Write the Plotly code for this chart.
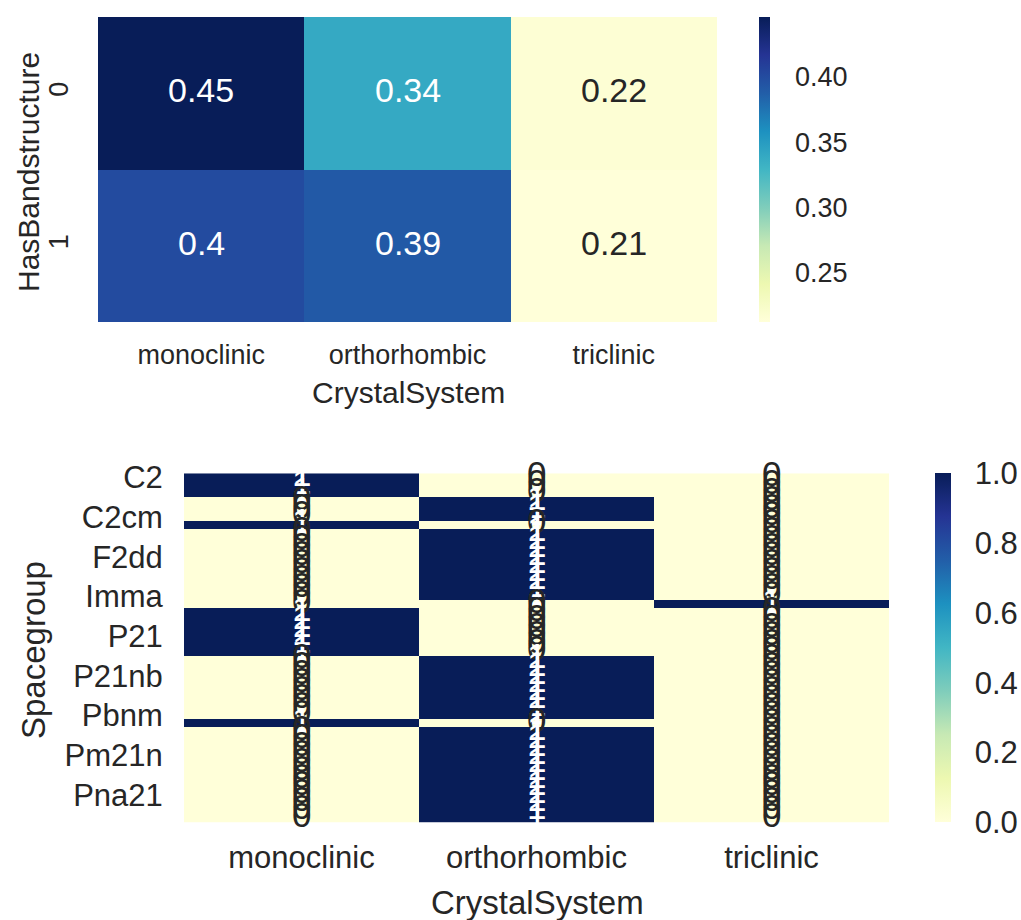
import plotly.graph_objects as go

# ---- data -------------------------------------------------------------
crystal_systems = ["monoclinic", "orthorhombic", "triclinic"]

# share of materials per crystal system, split by HasBandstructure (0 / 1)
band_labels = ["0", "1"]
share_band_0 = [0.446, 0.339, 0.216]
share_band_1 = [0.401, 0.391, 0.212]

# spacegroup -> crystal system (row-normalised crosstab)
spacegroups = [
    "C2", "C2/c", "C2/m", "C222", "C2221", "C2cm", "Cc", "Ccc2", "Cmc21", "Cmcm",
    "F2dd", "Fdd2", "Fddd", "Ima2", "Imm2", "Imma", "P1", "P2", "P2/c", "P2/m",
    "P21", "P21/c", "P21/m", "P21212", "P212121", "P21nb", "Pba2", "Pbca", "Pbcm", "Pbcn",
    "Pbnm", "Pc", "Pca21", "Pcab", "Pccn", "Pm21n", "Pmc21", "Pmcn", "Pmmn", "Pmn21",
    "Pna21", "Pnma", "Pnn2", "Pnnm",
]
monoclinic_share = [1, 1, 1, 0, 0, 0, 1, 0, 0, 0,
                    0, 0, 0, 0, 0, 0, 0, 1, 1, 1,
                    1, 1, 1, 0, 0, 0, 0, 0, 0, 0,
                    0, 1, 0, 0, 0, 0, 0, 0, 0, 0,
                    0, 0, 0, 0]
orthorhombic_share = [0, 0, 0, 1, 1, 1, 0, 1, 1, 1,
                      1, 1, 1, 1, 1, 1, 0, 0, 0, 0,
                      0, 0, 0, 1, 1, 1, 1, 1, 1, 1,
                      1, 0, 1, 1, 1, 1, 1, 1, 1, 1,
                      1, 1, 1, 1]
triclinic_share = [0, 0, 0, 0, 0, 0, 0, 0, 0, 0,
                   0, 0, 0, 0, 0, 0, 1, 0, 0, 0,
                   0, 0, 0, 0, 0, 0, 0, 0, 0, 0,
                   0, 0, 0, 0, 0, 0, 0, 0, 0, 0,
                   0, 0, 0, 0]
spacegroup_ticks = spacegroups[::5]

# ---- styling -------------------------------------------------------------
FONT = "Liberation Sans"
TEXT_DARK = "#262626"
YLGNBU = ["#ffffd9", "#edf8b1", "#c7e9b4", "#7fcdbb", "#41b6c4",
          "#1d91c0", "#225ea8", "#253494", "#081d58"]
colorscale = [[i / (len(YLGNBU) - 1), c] for i, c in enumerate(YLGNBU)]


def lum(hexcol):
    r, g, b = (int(hexcol[i:i + 2], 16) / 255 for i in (1, 3, 5))
    f = lambda c: c / 12.92 if c <= 0.03928 else ((c + 0.055) / 1.055) ** 2.4
    return 0.2126 * f(r) + 0.7152 * f(g) + 0.0722 * f(b)


def cell_color(v, vmin, vmax):
    t = 0 if vmax == vmin else (v - vmin) / (vmax - vmin)
    pos = t * (len(YLGNBU) - 1)
    i = min(int(pos), len(YLGNBU) - 2)
    fr = pos - i
    a, b = YLGNBU[i], YLGNBU[i + 1]
    rgb = [int(a[k:k + 2], 16) * (1 - fr) + int(b[k:k + 2], 16) * fr for k in (1, 3, 5)]
    return "#%02x%02x%02x" % tuple(int(round(c)) for c in rgb)


def text_color(v, vmin, vmax):
    return TEXT_DARK if lum(cell_color(v, vmin, vmax)) > 0.408 else "white"


W, H = 1021, 920
px = lambda x: x / W
py = lambda y: 1 - y / H

top_z = [share_band_0, share_band_1]
bot_z = [[m, o, t] for m, o, t in zip(monoclinic_share, orthorhombic_share, triclinic_share)]

fig = go.Figure()

fig.add_trace(go.Heatmap(
    z=top_z, x=crystal_systems, y=band_labels, xaxis="x", yaxis="y",
    colorscale=colorscale, hoverinfo="skip",
    colorbar=dict(
        x=px(759), xanchor="left", xpad=0, y=py(17), yanchor="top", ypad=0,
        len=305 / H, lenmode="fraction", thickness=11, outlinewidth=0,
        tickvals=[0.25, 0.30, 0.35, 0.40], ticktext=["0.25", "0.30", "0.35", "0.40"],
        ticks="outside", ticklen=20, tickcolor="rgba(0,0,0,0)",
        tickfont=dict(family=FONT, size=27, color=TEXT_DARK),
    ),
))

fig.add_trace(go.Heatmap(
    z=bot_z, x=crystal_systems, y=spacegroups, xaxis="x2", yaxis="y2",
    colorscale=colorscale, zmin=0, zmax=1, hoverinfo="skip",
    colorbar=dict(
        x=px(935), xanchor="left", xpad=0, y=py(473.3), yanchor="top", ypad=0,
        len=349.4 / H, lenmode="fraction", thickness=16, outlinewidth=0,
        tickvals=[0.0, 0.2, 0.4, 0.6, 0.8, 1.0],
        ticktext=["0.0", "0.2", "0.4", "0.6", "0.8", "1.0"],
        ticks="outside", ticklen=18, tickcolor="rgba(0,0,0,0)",
        tickfont=dict(family=FONT, size=31, color=TEXT_DARK),
    ),
))

annotations = []
# cell annotations, top heatmap
tmin, tmax = min(min(r) for r in top_z), max(max(r) for r in top_z)
for lab, row in zip(band_labels, top_z):
    for cs, v in zip(crystal_systems, row):
        annotations.append(dict(
            x=cs, y=lab, xref="x", yref="y", text=f"{v:.2g}", showarrow=False,
            xanchor="center", yanchor="middle",
            font=dict(family=FONT, size=34, color=text_color(v, tmin, tmax)),
            yshift=3,
        ))
# cell annotations, bottom heatmap (drawn row by row)
for sg, row in zip(spacegroups, bot_z):
    for cs, v in zip(crystal_systems, row):
        annotations.append(dict(
            x=cs, y=sg, xref="x2", yref="y2", text=f"{v:.2g}", showarrow=False,
            xanchor="center", yanchor="middle",
            font=dict(family=FONT, size=35, color=text_color(v, 0, 1)),
            yshift=4,
        ))

# axis titles
title_font = dict(family=FONT, size=30, color=TEXT_DARK)
big_title_font = dict(family=FONT, size=33, color=TEXT_DARK)
centered = dict(xref="paper", yref="paper", showarrow=False,
                xanchor="center", yanchor="middle")
annotations += [
    dict(x=px(408), y=py(393), text="CrystalSystem", font=title_font, **centered),
    dict(x=px(28), y=py(172), text="HasBandstructure", textangle=-90,
         font=title_font, **centered),
    dict(x=px(537), y=py(902), text="CrystalSystem", font=big_title_font, **centered),
    dict(x=px(33), y=py(650), text="Spacegroup", textangle=-90,
         font=big_title_font, **centered),
]

axis_common = dict(showgrid=False, zeroline=False, showline=False, automargin=False,
                   ticks="outside", tickcolor="rgba(0,0,0,0)")

fig.update_layout(
    width=W, height=H,
    margin=dict(l=0, r=0, t=0, b=0, autoexpand=False),
    paper_bgcolor="white", plot_bgcolor="white",
    showlegend=False,
    annotations=annotations,
    xaxis=dict(domain=[px(98), px(717)], anchor="y", ticklen=9,
               range=[-0.5, len(crystal_systems) - 0.5],
               tickfont=dict(family=FONT, size=27, color=TEXT_DARK), **axis_common),
    yaxis=dict(domain=[py(322), py(17)], anchor="x",
               range=[len(band_labels) - 0.5, -0.5],
               tickangle=-90, ticklen=18,
               tickfont=dict(family=FONT, size=27, color=TEXT_DARK), **axis_common),
    xaxis2=dict(domain=[px(184), px(889)], anchor="y2", ticklen=7,
                range=[-0.5, len(crystal_systems) - 0.5],
                tickfont=dict(family=FONT, size=31, color=TEXT_DARK), **axis_common),
    yaxis2=dict(domain=[py(822.7), py(473.3)], anchor="x2",
                range=[len(spacegroups) - 0.5, -0.5],
                categoryorder="array", categoryarray=spacegroups,
                tickmode="array", tickvals=spacegroup_ticks, ticktext=spacegroup_ticks,
                ticklen=14,
                tickfont=dict(family=FONT, size=31, color=TEXT_DARK), **axis_common),
)

fig.write_html("out.html")
